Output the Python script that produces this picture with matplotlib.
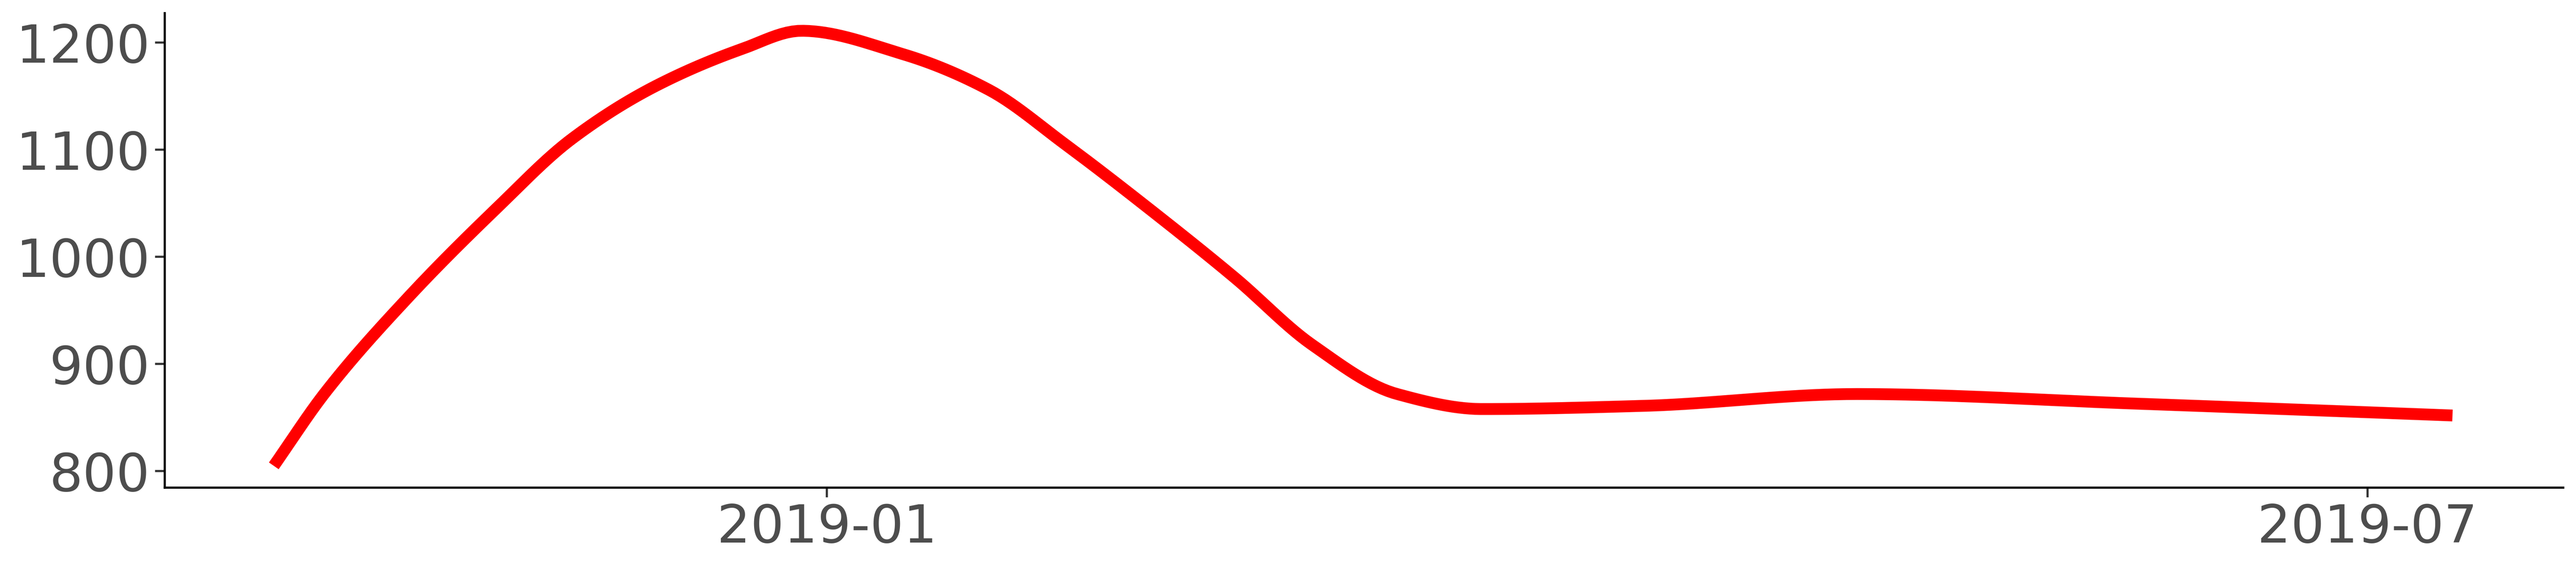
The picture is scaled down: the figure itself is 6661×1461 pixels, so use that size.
import matplotlib
matplotlib.use("Agg")
import matplotlib.pyplot as plt
import matplotlib.dates as mdates
import numpy as np
import pandas as pd

dates = pd.to_datetime([
    "2018-10-28", "2018-11-03", "2018-11-13", "2018-11-23", "2018-12-02",
    "2018-12-12", "2018-12-22", "2018-12-29", "2019-01-10", "2019-01-20",
    "2019-01-29", "2019-02-08", "2019-02-18", "2019-02-27", "2019-03-09",
    "2019-03-19", "2019-04-07", "2019-05-02", "2019-06-04", "2019-07-11",
])
values = [805, 873, 964, 1044, 1110, 1160, 1194, 1211, 1189, 1156,
          1105, 1044, 980, 918, 872, 858, 861, 872, 863, 852]

# smooth the read points a little for display (cubic through the samples)
t = (dates - dates[0]).days.values.astype(float)
tt = np.linspace(t[0], t[-1], 400)
from numpy.polynomial import polynomial as P
# monotone-ish smoothing via piecewise cubic Hermite
def pchip(x, y, xn):
    y = np.asarray(y, float)
    h = np.diff(x)
    d = np.diff(y) / h
    m = np.zeros_like(y)
    for k in range(1, len(y) - 1):
        if d[k - 1] * d[k] > 0:
            w1 = 2 * h[k] + h[k - 1]
            w2 = h[k] + 2 * h[k - 1]
            m[k] = (w1 + w2) / (w1 / d[k - 1] + w2 / d[k])
    m[0], m[-1] = d[0], d[-1]
    idx = np.clip(np.searchsorted(x, xn) - 1, 0, len(h) - 1)
    s = (xn - x[idx]) / h[idx]
    h00 = 2 * s**3 - 3 * s**2 + 1
    h10 = s**3 - 2 * s**2 + s
    h01 = -2 * s**3 + 3 * s**2
    h11 = s**3 - s**2
    return h00 * y[idx] + h10 * h[idx] * m[idx] + h01 * y[idx + 1] + h11 * h[idx] * m[idx + 1]

yy = pchip(t, values, tt)
xx = dates[0] + pd.to_timedelta(tt, unit="D")

fig = plt.figure(figsize=(66.61, 14.61), dpi=100)
ax = fig.add_axes([0.064, 0.137, 0.931, 0.84])
ax.plot(xx, yy, color="#FF0000", linewidth=22, solid_capstyle="butt")

jan = pd.Timestamp("2019-01-01")
ax.set_xlim(jan - pd.Timedelta(days=77.8), jan + pd.Timedelta(days=204))
ax.set_ylim(784.7, 1227.6)
ax.set_yticks([800, 900, 1000, 1100, 1200])
ax.set_xticks([pd.Timestamp("2019-01-01"), pd.Timestamp("2019-07-01")])
ax.xaxis.set_major_formatter(mdates.DateFormatter("%Y-%m"))

for s in ["top", "right"]:
    ax.spines[s].set_visible(False)
for s in ["left", "bottom"]:
    ax.spines[s].set_linewidth(4)
    ax.spines[s].set_color("black")
ax.tick_params(axis="both", labelsize=98, colors="#4D4D4D", length=18, width=4, pad=10)
ax.tick_params(axis="both", color="#333333")
ax.grid(False)

fig.savefig("out.png", dpi=100)
